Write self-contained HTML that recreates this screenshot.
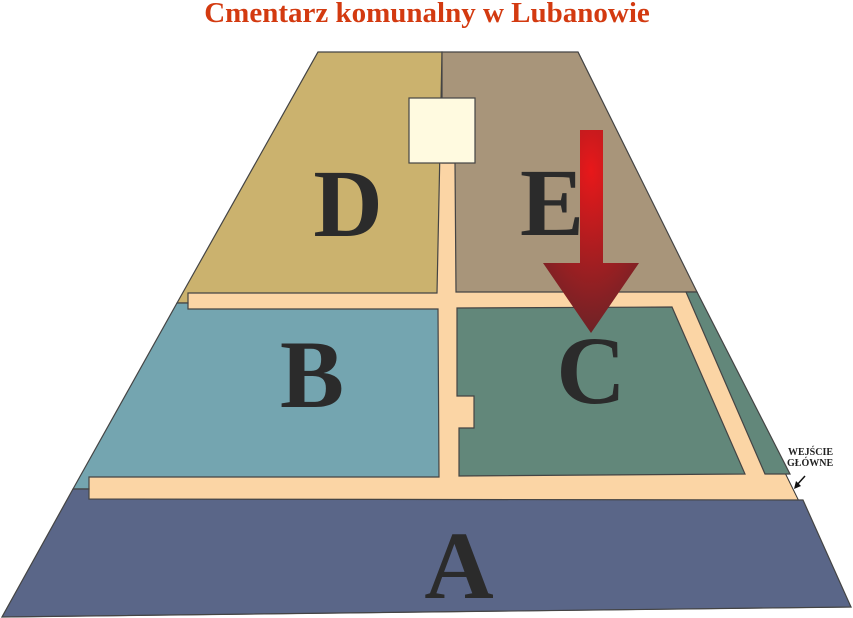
<!DOCTYPE html>
<html><head><meta charset="utf-8"><style>
html,body{margin:0;padding:0;background:#fff;width:853px;height:618px;overflow:hidden}
svg{display:block}
</style></head><body>
<svg width="853" height="618" viewBox="0 0 853 618" xmlns="http://www.w3.org/2000/svg">
<defs>
<radialGradient id="ag" cx="0.5" cy="0.2" r="0.9">
<stop offset="0" stop-color="#e8181a"/>
<stop offset="1" stop-color="#5e2428"/>
</radialGradient>
</defs>
<text x="427" y="22" text-anchor="middle" font-family="Liberation Serif, serif" font-weight="bold" font-size="29" fill="#d33a10">Cmentarz komunalny w Lubanowie</text>
<polygon points="318,52 578,52 851,607 2,617" fill="#fbd5a5" stroke="#333" stroke-width="1"/>
<g stroke="#444" stroke-width="1.2">
<polygon points="318,52 442,52 437,293 188,293 188,303 177,303" fill="#cbb26e"/>
<polygon points="442,52 578,52 697,292 456,292 455,163 442,163" fill="#a8957a"/>
<polygon points="177,303 188,303 188,309 438,309 439,477 89,477 89,489 73,489" fill="#74a5b0"/>
<polygon points="457,308 672,307 745,474 459,476 459,428 474,428 474,396 457,396" fill="#62877a"/>
<polygon points="686,292 697,292 790,474 765,474" fill="#62877a"/>
<polygon points="73,489 89,489 89,499 803,500 851,607 2,617" fill="#5a6688"/>
<rect x="409" y="98" width="66" height="65" fill="#fffae0"/>
</g>
<g font-family="Liberation Serif, serif" font-weight="bold" font-size="96" fill="#2b2b2b" text-anchor="middle">
<text x="348" y="236">D</text>
<text x="552" y="235">E</text>
<text x="312" y="407">B</text>
<text x="591" y="403">C</text>
<text x="459" y="598">A</text>
</g>
<polygon points="580,130 603,130 603,263 639,263 591,333 543,263 580,263" fill="url(#ag)"/>
<g font-family="Liberation Serif, serif" font-weight="bold" font-size="10" fill="#222">
<text x="788" y="455">WEJŚCIE</text>
<text x="787" y="466">GŁÓWNE</text>
</g>
<line x1="805" y1="476" x2="796" y2="486" stroke="#111" stroke-width="1.5"/>
<polygon points="794,489 796,481 801,486" fill="#111"/>
</svg>
</body></html>
